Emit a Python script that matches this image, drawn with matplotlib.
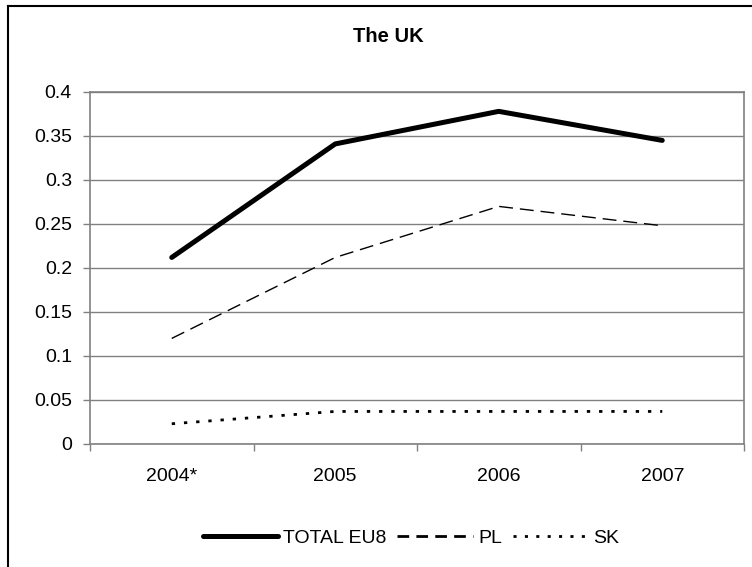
import matplotlib
matplotlib.use("Agg")
import matplotlib.pyplot as plt
from matplotlib.lines import Line2D

categories = ["2004*", "2005", "2006", "2007"]
total_eu8 = [0.212, 0.341, 0.378, 0.345]
pl = [0.12, 0.212, 0.27, 0.248]
sk = [0.023, 0.037, 0.037, 0.037]
yticks = [0, 0.05, 0.1, 0.15, 0.2, 0.25, 0.3, 0.35, 0.4]
ytick_labels = ["0", "0.05", "0.1", "0.15", "0.2", "0.25", "0.3", "0.35", "0.4"]
series_names = ["TOTAL EU8", "PL", "SK"]

plt.rcParams['font.family'] = ['Liberation Sans', 'DejaVu Sans']

W, H = 752, 567
fig = plt.figure(figsize=(W / 100, H / 100), dpi=100)
fig.patch.set_facecolor("white")

left, right, top, bottom = 90, 744, 92, 444
ax = fig.add_axes([left / W, 1 - bottom / H, (right - left) / W, (bottom - top) / H])

x = list(range(len(categories)))
ax.plot(x, total_eu8, color="black", lw=3.6, solid_capstyle="round",
        solid_joinstyle="round", zorder=4)
ax.plot(x, pl, color="black", lw=1.0, dashes=(10, 5), zorder=3)
ax.plot(x, sk, color="black", lw=2.0, dashes=(1.2, 3.2), zorder=3)

ax.set_xlim(-0.5, len(categories) - 0.5)
ax.set_ylim(0, 0.4)
ax.set_yticks(yticks)
ax.set_yticklabels(ytick_labels, fontsize=14)
ax.yaxis.grid(True, color="#808080", lw=1.0)
ax.set_axisbelow(True)

ax.set_xticks([i - 0.5 for i in range(len(categories) + 1)])
ax.set_xticklabels([])
ax.set_xticks(x, minor=True)
ax.set_xticklabels(categories, minor=True, fontsize=14)
ax.tick_params(axis="x", which="major", length=5, width=1, color="#808080", direction="out")
ax.tick_params(axis="x", which="minor", length=0, pad=17)
ax.tick_params(axis="y", length=5, width=1, color="#808080", direction="out", pad=8)

for side in ["top", "right", "left", "bottom"]:
    ax.spines[side].set_color("#808080")
    ax.spines[side].set_linewidth(1.2)

fig.text(388 / W, 1 - 37 / H, "The UK", ha="center", va="center",
         fontsize=14.5, fontweight="bold")

handles = [
    Line2D([], [], color="black", lw=3.6, solid_capstyle="round"),
    Line2D([], [], color="black", lw=2.0, dashes=(4.2, 2.6)),
    Line2D([], [], color="black", lw=2.0, dashes=(1.1, 3.0)),
]
leg = fig.legend(handles, series_names, loc="center", ncol=3,
                 bbox_to_anchor=(411 / W, 1 - 538 / H), frameon=False,
                 fontsize=14, handlelength=3.9, handletextpad=0.25,
                 columnspacing=0.55)

# chart area border (cropped at right and bottom)
fig.add_artist(Line2D([8 / W, 8 / W], [0, 1 - 6 / H], color="black", lw=1.5,
                      transform=fig.transFigure))
fig.add_artist(Line2D([8 / W, 1], [1 - 6 / H, 1 - 6 / H], color="black", lw=1.5,
                      transform=fig.transFigure))

fig.savefig("out.png", dpi=100, facecolor="white")
